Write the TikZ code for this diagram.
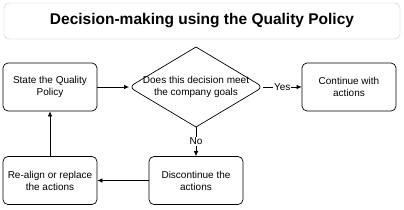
\documentclass[tikz,border=0pt]{standalone}
\usepackage{fontspec}
\setmainfont{Liberation Sans}
\usetikzlibrary{arrows.meta}
\definecolor{framegray}{HTML}{C8C8C8}

\tikzset{
  stepbox/.style={draw=black, line width=0.7pt, rounded corners=5pt, minimum width=94pt, minimum height=48pt, align=center, font=\fontsize{10}{12}\selectfont},
  flow/.style={draw=black, line width=0.7pt, -{Latex[length=5pt,width=4.5pt]}},
  branch/.style={fill=white, inner sep=1pt, font=\fontsize{10}{11}\selectfont}
}

\begin{document}
\begin{tikzpicture}[x=1pt, y=-1pt]
\useasboundingbox (0,0) rectangle (404,209);

% title
\node[draw=framegray, rounded corners=5pt, minimum width=396pt, minimum height=36pt, font=\fontsize{15.5}{17}\selectfont\bfseries] (title) at (202,21) {Decision-making using the Quality Policy};

% boxes
\node[stepbox] (state) at (50,87) {State the Quality\\Policy};
\node[stepbox] (cont) at (349,87) {Continue with\\actions};
\node[stepbox] (disc) at (196,180.5) {Discontinue the\\actions};
\node[stepbox] (realign) at (50,180.5) {Re-align or replace\\the actions};

% decision
\node[align=center, font=\fontsize{10}{12}\selectfont] (dec) at (196,87) {Does this decision meet\\the company goals};
\coordinate (decN) at (196,47);
\coordinate (decS) at (196,127);
\coordinate (decW) at (129,87);
\coordinate (decE) at (263,87);
\draw[line width=0.7pt, rounded corners=6pt] (decN) -- (decE) -- (decS);
\draw[line width=0.7pt, rounded corners=6pt] (decN) -- (decW) -- (decS);

% connectors
\draw[flow] (state) -- (decW);
\draw[flow] (decE) -- node[branch] {Yes} (cont);
\draw[flow] (decS) -- node[branch] {No} (disc);
\draw[flow] (disc) -- (realign);
\draw[flow] (realign) -- (state);
\end{tikzpicture}
\end{document}
